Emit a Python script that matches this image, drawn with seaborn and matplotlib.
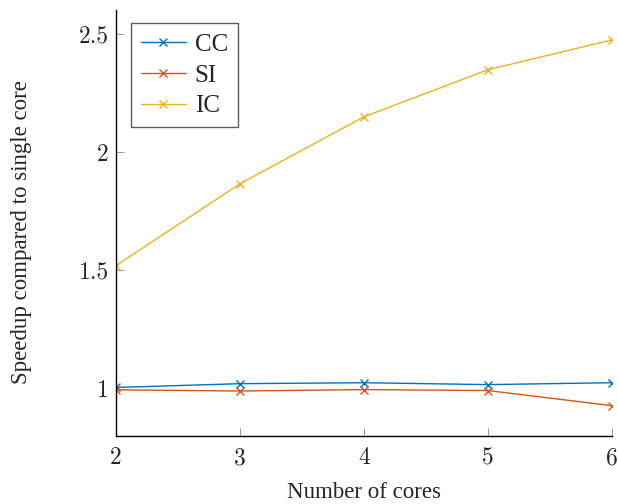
import pandas as pd
import matplotlib
matplotlib.use("Agg")
import matplotlib.pyplot as plt
import seaborn as sns

# data
cores = [2, 3, 4, 5, 6]
cc_speedup = [1.005, 1.021, 1.025, 1.017, 1.025]
si_speedup = [0.995, 0.990, 0.996, 0.992, 0.928]
ic_speedup = [1.52, 1.866, 2.149, 2.348, 2.474]
series_names = ["CC", "SI", "IC"]
series_colors = ["#0072BD", "#D95319", "#EDB120"]
y_ticks = [1, 1.5, 2, 2.5]
y_tick_labels = ["1", "1.5", "2", "2.5"]

df = pd.DataFrame({
    "cores": cores * 3,
    "speedup": cc_speedup + si_speedup + ic_speedup,
    "series": [n for n in series_names for _ in cores],
})

sns.set_theme(style="ticks")
plt.rcParams["font.family"] = ["Liberation Serif", "DejaVu Serif"]

fig = plt.figure(figsize=(6.18, 5.04), dpi=100)
ax = fig.add_axes([0.1877, 0.135, 0.8026, 0.845])

sns.lineplot(data=df, x="cores", y="speedup", hue="series", hue_order=series_names,
             palette=series_colors, marker="x", markersize=6, markeredgewidth=1.0,
             linewidth=1.0, ax=ax)
# seaborn paints marker edges white, which hides "x" markers
for line in ax.lines:
    line.set_markeredgecolor(line.get_color())

ax.set_xlim(2, 6)
ax.set_ylim(0.80, 2.60)
ax.set_xticks(cores)
ax.set_xticklabels([str(c) for c in cores], fontfamily="cmr10", fontsize=17)
ax.set_yticks(y_ticks)
ax.set_yticklabels(y_tick_labels, fontfamily="cmr10", fontsize=17)
ax.tick_params(direction="in", length=6, width=0.6, color="#888888")
ax.tick_params(axis="y", pad=5)
ax.tick_params(axis="x", pad=8)

for side in ["top", "right"]:
    ax.spines[side].set_visible(False)
for side in ["left", "bottom"]:
    ax.spines[side].set_linewidth(1.0)
    ax.spines[side].set_color("black")

ax.set_xlabel("Number of cores", fontsize=16.5, labelpad=9)
ax.set_ylabel("Speedup compared to single core", fontsize=16.5)
ax.yaxis.set_label_coords(-0.169, 0.479)

leg = ax.legend(loc="upper left", bbox_to_anchor=(0.03, 0.969), fontsize=18,
                frameon=True, fancybox=False, handlelength=1.8, handletextpad=0.35,
                borderpad=0.4, labelspacing=0.33, borderaxespad=0)
leg.get_frame().set_edgecolor("#333333")
leg.get_frame().set_linewidth(1.0)
for h in leg.legend_handles:
    h.set_markeredgecolor(h.get_color())

fig.savefig("out.png", dpi=100)
